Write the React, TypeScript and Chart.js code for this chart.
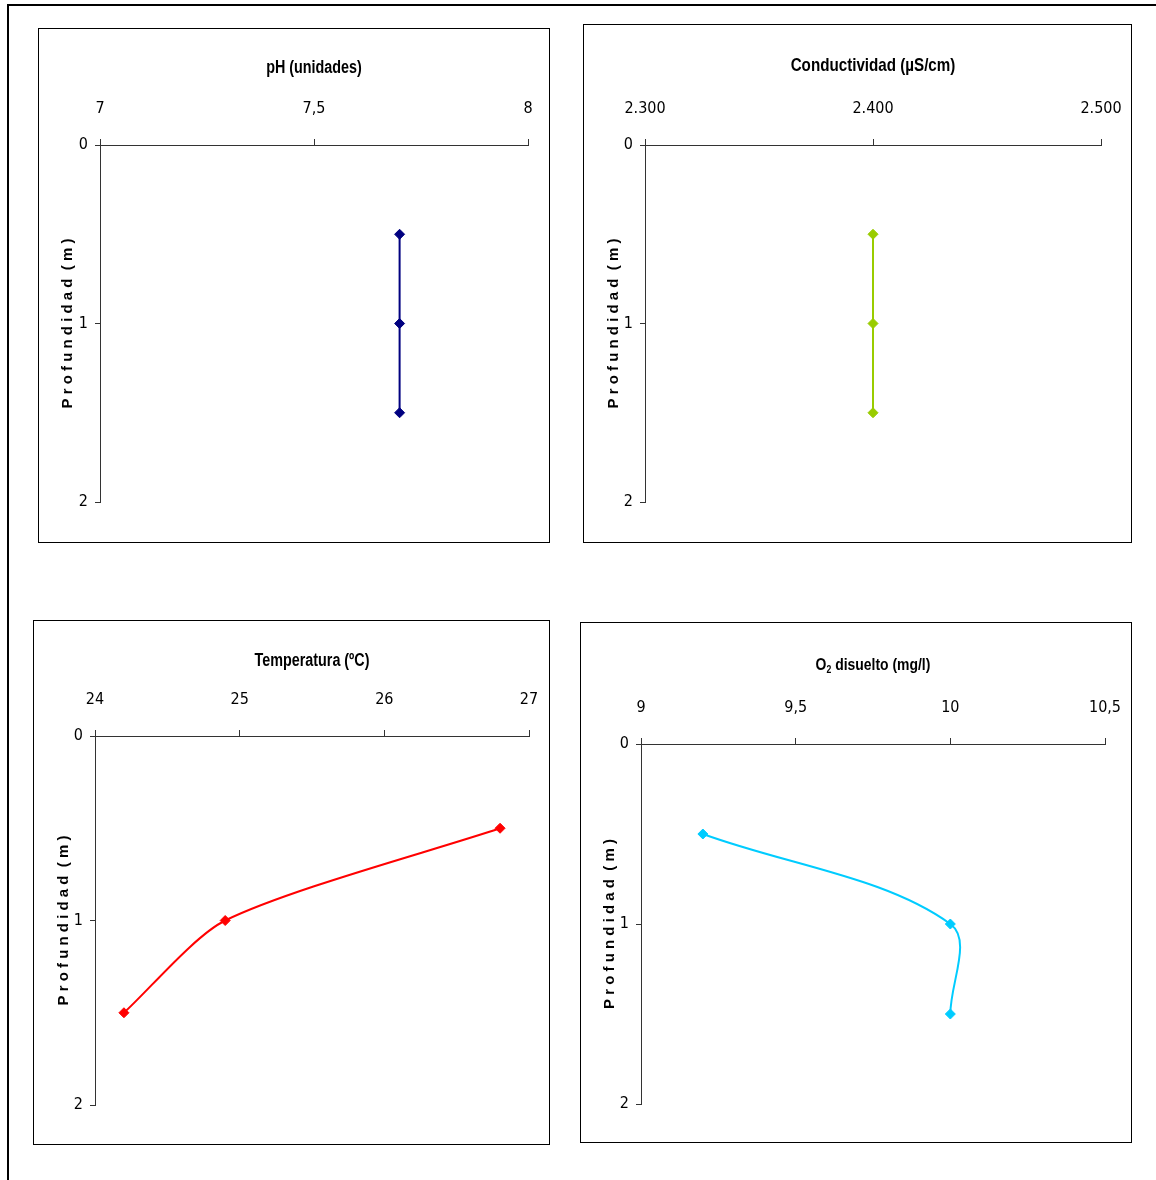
import React, { useEffect, useRef } from "react";
import { Chart, registerables } from "chart.js";

Chart.register(...registerables);

// ---- data ----
const depths = [0.5, 1, 1.5];
const depthTickValues = [0, 1, 2];
const depthTicks = ["0", "1", "2"];

const phValues = [7.7, 7.7, 7.7];
const phTicks = ["7", "7,5", "8"];

const condValues = [2400, 2400, 2400];
const condTicks = ["2.300", "2.400", "2.500"];

const tempValues = [26.8, 24.9, 24.2];
const tempTicks = ["24", "25", "26", "27"];

const o2Values = [9.2, 10.0, 10.0];
const o2Ticks = ["9", "9,5", "10", "10,5"];

type Part = { text: string; sub?: boolean };
const phTitle: Part[] = [{ text: "pH (unidades)" }];
const condTitle: Part[] = [{ text: "Conductividad (µS/cm)" }];
const tempTitle: Part[] = [{ text: "Temperatura (ºC)" }];
const o2Title: Part[] = [{ text: "O" }, { text: "2", sub: true }, { text: " disuelto (mg/l)" }];
const depthTitle = "P r o f u n d i d a d  ( m )";

const NARROW = "'Liberation Sans Narrow', 'Arial Narrow', 'DejaVu Sans Condensed', sans-serif";
const WIDE = "'Liberation Sans', Arial, sans-serif";
const AXIS = "#333";

type Geo = {
  left: number; top: number; width: number; height: number;
  plotLeft: number; plotTop: number; padRight: number; padBottom: number;
  titleY: number; yTitleX: number;
};

type PanelProps = {
  geo: Geo;
  title: Part[];
  titleSize: number;
  values: number[];
  xTicks: string[];
  min: number; max: number; step: number;
  color: string;
  tension: number;
};

function Panel({ geo, title, titleSize, values, xTicks, min, max, step, color, tension }: PanelProps) {
  const ref = useRef<HTMLCanvasElement | null>(null);
  useEffect(() => {
    if (!ref.current) return;
    const tickSize = 16;
    const yTitleSize = 15;
    const yTitleLH = yTitleSize * 1.2;

    // Chart title drawn in a condensed (horizontally scaled) bold face, centred over the plot area
    const titlePlugin = {
      id: "panelTitle",
      afterDraw(chart: any) {
        const { ctx, chartArea } = chart;
        const fontFor = (sub?: boolean) => `bold ${sub ? titleSize * 0.62 : titleSize}px ${WIDE}`;
        ctx.save();
        ctx.translate((chartArea.left + chartArea.right) / 2, geo.titleY);
        ctx.scale(0.82, 1);
        ctx.fillStyle = "#000";
        ctx.textBaseline = "middle";
        ctx.textAlign = "left";
        let total = 0;
        const widths = title.map((p) => {
          ctx.font = fontFor(p.sub);
          const w = ctx.measureText(p.text).width;
          total += w;
          return w;
        });
        let x = -total / 2;
        title.forEach((p, i) => {
          ctx.font = fontFor(p.sub);
          ctx.fillText(p.text, x, p.sub ? titleSize * 0.3 : 0);
          x += widths[i];
        });
        ctx.restore();
      },
    };

    const chart = new Chart(ref.current, {
      type: "line",
      data: {
        datasets: [
          {
            data: depths.map((d, i) => ({ x: values[i], y: d })),
            borderColor: color,
            backgroundColor: color,
            borderWidth: 2,
            pointStyle: "rectRot",
            pointRadius: 5,
            pointBorderWidth: 1,
            pointBorderColor: color,
            pointBackgroundColor: color,
            tension,
            fill: false,
          },
        ],
      },
      options: {
        responsive: false,
        animation: false,
        devicePixelRatio: 1,
        layout: { padding: { left: 0, top: 0, right: geo.padRight, bottom: geo.padBottom } },
        plugins: { legend: { display: false }, tooltip: { enabled: false }, title: { display: false } },
        scales: {
          x: {
            type: "linear",
            position: "top",
            min,
            max,
            afterFit: (s: any) => { s.height = geo.plotTop; s.paddingLeft = 0; s.paddingRight = 0; },
            ticks: {
              stepSize: step,
              padding: 21,
              color: "#000",
              font: { family: NARROW, size: tickSize },
              maxRotation: 0,
              autoSkip: false,
              callback: (_v: any, i: number) => xTicks[i],
            },
            grid: { display: true, drawOnChartArea: false, drawTicks: true, tickLength: 6, color: AXIS, lineWidth: 1 },
            border: { display: true, color: AXIS, width: 1 },
            title: { display: false },
          },
          y: {
            type: "linear",
            reverse: true,
            min: 0,
            max: 2,
            afterFit: (s: any) => { s.width = geo.plotLeft; s.paddingTop = 0; s.paddingBottom = 0; },
            ticks: {
              stepSize: 1,
              padding: 7,
              color: "#000",
              font: { family: NARROW, size: tickSize },
              callback: (v: any) => depthTicks[depthTickValues.indexOf(Number(v))],
            },
            grid: { display: true, drawOnChartArea: false, drawTicks: true, tickLength: 5, color: AXIS, lineWidth: 1 },
            border: { display: true, color: AXIS, width: 1 },
            title: {
              display: true,
              text: depthTitle,
              color: "#000",
              font: { family: WIDE, size: yTitleSize, weight: "bold" },
              padding: { top: geo.yTitleX - yTitleLH / 2, bottom: 0 },
            },
          },
        },
      },
      plugins: [titlePlugin],
    });
    return () => chart.destroy();
  }, []);
  return (
    <div
      style={{
        position: "absolute",
        left: geo.left,
        top: geo.top,
        width: geo.width,
        height: geo.height,
        border: "1px solid #000",
        background: "#fff",
      }}
    >
      <canvas ref={ref} width={geo.width} height={geo.height} style={{ display: "block", width: geo.width, height: geo.height }} />
    </div>
  );
}

const geoPh: Geo = { left: 38, top: 28, width: 510, height: 513, plotLeft: 61, plotTop: 116, padRight: 21, padBottom: 40, titleY: 39, yTitleX: 29 };
const geoCond: Geo = { left: 583, top: 24, width: 547, height: 517, plotLeft: 61, plotTop: 120, padRight: 30, padBottom: 40, titleY: 41, yTitleX: 30 };
const geoTemp: Geo = { left: 33, top: 620, width: 515, height: 523, plotLeft: 61, plotTop: 115, padRight: 20, padBottom: 39, titleY: 40, yTitleX: 30 };
const geoO2: Geo = { left: 580, top: 622, width: 550, height: 519, plotLeft: 60, plotTop: 121, padRight: 26, padBottom: 38, titleY: 42, yTitleX: 29 };

export default function App() {
  return (
    <div style={{ position: "absolute", left: 0, top: 0, width: 1156, height: 1180, overflow: "hidden", background: "#fff" }}>
      <div style={{ position: "absolute", left: 7, top: 4, width: 1160, height: 2, background: "#000" }} />
      <div style={{ position: "absolute", left: 7, top: 4, width: 2, height: 1190, background: "#000" }} />
      <Panel geo={geoPh} title={phTitle} titleSize={17.5} values={phValues} xTicks={phTicks} min={7} max={8} step={0.5} color="#000080" tension={0} />
      <Panel geo={geoCond} title={condTitle} titleSize={18.5} values={condValues} xTicks={condTicks} min={2300} max={2500} step={100} color="#99CC00" tension={0} />
      <Panel geo={geoTemp} title={tempTitle} titleSize={17.5} values={tempValues} xTicks={tempTicks} min={24} max={27} step={1} color="#FF0000" tension={0.25} />
      <Panel geo={geoO2} title={o2Title} titleSize={17} values={o2Values} xTicks={o2Ticks} min={9} max={10.5} step={0.5} color="#00CCFF" tension={0.35} />
    </div>
  );
}
